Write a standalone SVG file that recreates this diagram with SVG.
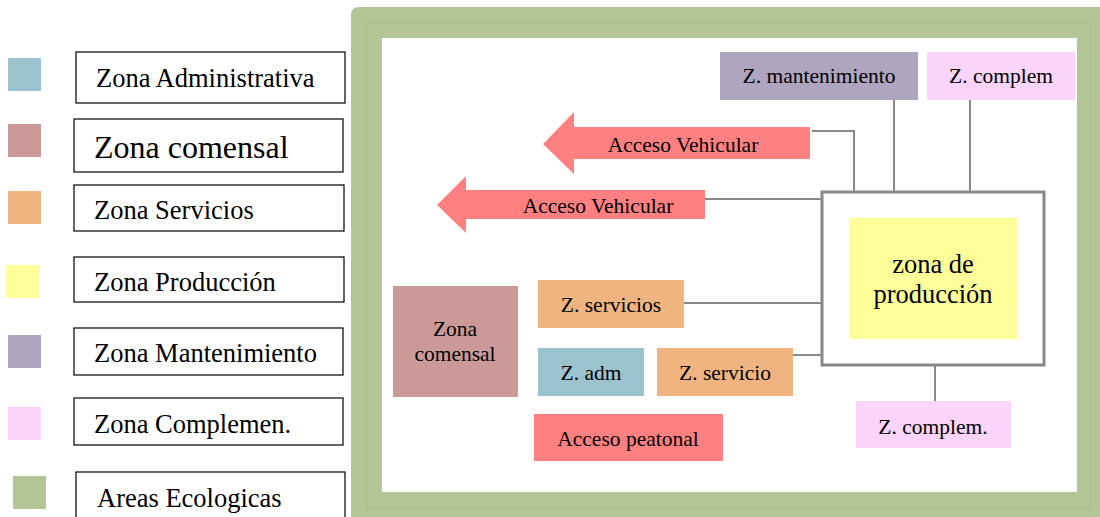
<svg xmlns="http://www.w3.org/2000/svg" width="1100" height="517" viewBox="0 0 1100 517">
  <style>
    text { font-family: "Liberation Serif", "Times New Roman", serif; fill: #000; }
    .leg { fill: #fff; stroke: #000; stroke-width: 1.2; }
    .lt { font-size: 26.5px; }
    .nt { font-size: 21.5px; text-anchor: middle; }
    .big { font-size: 26.5px; }
    .conn { fill: none; stroke: #888; stroke-width: 2; }
    .adm { fill: #9AC3CE; }
    .com { fill: #CC9999; }
    .ser { fill: #F0B481; }
    .pro { fill: #FFFF99; }
    .man { fill: #AFA5BE; }
    .cpl { fill: #FAD4FA; }
    .eco { fill: #B3C495; }
    .acc { fill: #FF8080; }
  </style>

  <rect width="1100" height="517" fill="#fff"/>

  <!-- legend -->
  <g id="legend">
    <rect class="adm" x="8" y="58" width="33" height="33"/>
    <rect class="leg" x="76" y="52" width="269" height="51"/>
    <text class="lt" x="96" y="87">Zona Administrativa</text>

    <rect class="com" x="8" y="124" width="33" height="33"/>
    <rect class="leg" x="74" y="119" width="269" height="53"/>
    <text x="94" y="158" style="font-size:32px">Zona comensal</text>

    <rect class="ser" x="8" y="191" width="33" height="33"/>
    <rect class="leg" x="74" y="185" width="270" height="46"/>
    <text class="lt" x="94" y="219">Zona Servicios</text>

    <rect class="pro" x="6" y="265" width="33" height="33"/>
    <rect class="leg" x="74" y="257" width="270" height="45"/>
    <text class="lt" x="94" y="291">Zona Producción</text>

    <rect class="man" x="8" y="335" width="33" height="33"/>
    <rect class="leg" x="74" y="328" width="269" height="47"/>
    <text class="lt" x="94" y="362">Zona Mantenimiento</text>

    <rect class="cpl" x="8" y="407" width="33" height="33"/>
    <rect class="leg" x="74" y="398" width="269" height="47"/>
    <text class="lt" x="94" y="433">Zona Complemen.</text>

    <rect class="eco" x="13" y="476" width="33" height="33"/>
    <rect class="leg" x="76" y="472" width="269" height="60"/>
    <text class="lt" x="97" y="507">Areas Ecologicas</text>
  </g>

  <!-- ecological border around the site -->
  <g id="site">
    <path class="eco" d="M351,15 Q351,7 359,7 H1100 V517 H351 Z"/>
    <rect x="366.5" y="22.5" width="724" height="486" fill="none" stroke="#A8BA88" stroke-width="1"/>
    <rect x="382" y="38" width="695" height="454" fill="#fff"/>
  </g>

  <!-- connectors -->
  <g id="connectors">
    <polyline class="conn" points="812,131 854,131 854,192"/>
    <line class="conn" x1="894" y1="100" x2="894" y2="192"/>
    <line class="conn" x1="970" y1="100" x2="970" y2="192"/>
    <line class="conn" x1="704" y1="199" x2="822" y2="199"/>
    <line class="conn" x1="680" y1="303" x2="822" y2="303"/>
    <line class="conn" x1="787" y1="355" x2="822" y2="355"/>
    <line class="conn" x1="935" y1="365" x2="935" y2="402"/>
  </g>

  <g id="z-mantenimiento">
    <rect class="man" x="720" y="52" width="198" height="48"/>
    <text class="nt" x="819" y="83">Z. mantenimiento</text>
  </g>

  <g id="z-complem-top">
    <rect class="cpl" x="927" y="52" width="148" height="48"/>
    <text class="nt" x="1001" y="83">Z. complem</text>
  </g>

  <g id="acceso-vehicular-1">
    <polygon class="acc" points="543,144 574,112 574,127 810,127 810,159 574,159 574,174"/>
    <text class="nt" x="683" y="152">Acceso Vehicular</text>
  </g>

  <g id="acceso-vehicular-2">
    <polygon class="acc" points="437,205 466,176 466,190 705,190 705,219 466,219 466,233"/>
    <text class="nt" x="598" y="213">Acceso Vehicular</text>
  </g>

  <g id="zona-produccion">
    <rect x="822" y="192" width="222" height="173" fill="#fff" stroke="#888" stroke-width="3"/>
    <rect class="pro" x="849" y="218" width="168" height="121"/>
    <text class="nt big" x="933" y="273">zona de</text>
    <text class="nt big" x="933" y="303">producción</text>
  </g>

  <g id="zona-comensal">
    <rect class="com" x="393" y="286" width="125" height="111"/>
    <text class="nt" x="455" y="336">Zona</text>
    <text class="nt" x="455" y="361">comensal</text>
  </g>

  <g id="z-servicios">
    <rect class="ser" x="538" y="280" width="146" height="48"/>
    <text class="nt" x="611" y="312">Z. servicios</text>
  </g>

  <g id="z-adm">
    <rect class="adm" x="538" y="348" width="106" height="48"/>
    <text class="nt" x="591" y="380">Z. adm</text>
  </g>

  <g id="z-servicio">
    <rect class="ser" x="657" y="348" width="136" height="48"/>
    <text class="nt" x="725" y="380">Z. servicio</text>
  </g>

  <g id="acceso-peatonal">
    <rect class="acc" x="534" y="414" width="189" height="47"/>
    <text class="nt" x="628" y="446">Acceso peatonal</text>
  </g>

  <g id="z-complem-bottom">
    <rect class="cpl" x="856" y="401" width="155" height="47"/>
    <text class="nt" x="933" y="434">Z. complem.</text>
  </g>
</svg>
